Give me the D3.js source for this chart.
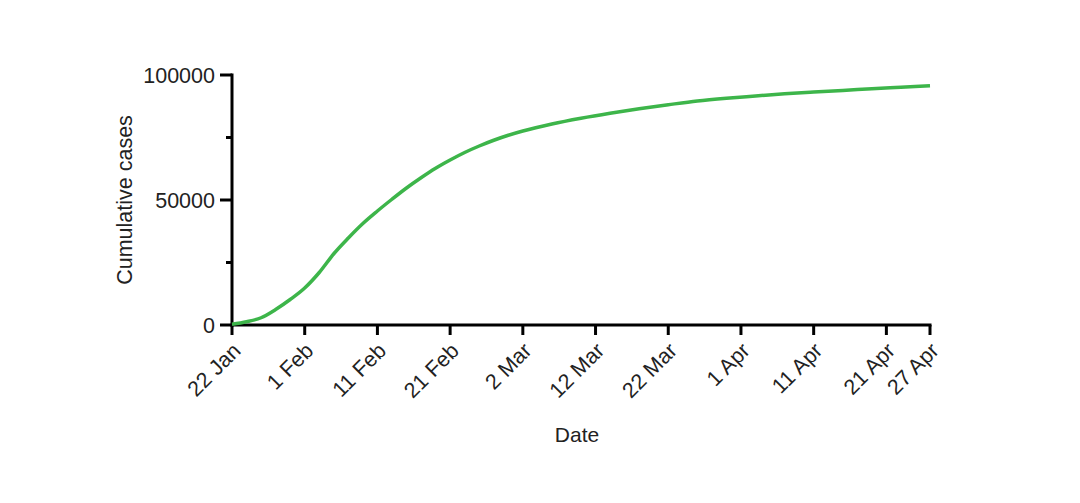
<!DOCTYPE html>
<html><head><meta charset="utf-8">
<script src="https://cdn.jsdelivr.net/npm/d3@7"></script>
<style>
html,body{margin:0;padding:0;background:#fff;}
svg{display:block;}
text{font-family:"Liberation Sans",Arial,Helvetica,sans-serif;fill:#222;}
</style></head>
<body>
<svg id="chart" width="1080" height="503"></svg>
<script>
// Days since 22 Jan 2020 and cumulative cases
const days  = [0, 2, 4, 6, 8, 10, 12, 14, 16, 18, 20, 22, 24, 26, 28, 30, 32, 34, 36, 38, 40, 44, 48, 52, 56, 60, 64, 68, 72, 76, 80, 84, 88, 92, 96];
const cases = [300, 1300, 2900, 6200, 10200, 14800, 21000, 28500, 34800, 40600, 45600, 50300, 54800, 58900, 62700, 66000, 69000, 71600, 73900, 75900, 77600, 80400, 82700, 84700, 86500, 88100, 89600, 90700, 91600, 92500, 93200, 93800, 94500, 95100, 95700];
const tickDays   = [0, 10, 20, 30, 40, 50, 60, 70, 80, 90, 96];
const tickLabels = ["22 Jan", "1 Feb", "11 Feb", "21 Feb", "2 Mar", "12 Mar", "22 Mar", "1 Apr", "11 Apr", "21 Apr", "27 Apr"];
const yMajor = [0, 50000, 100000];
const yMinor = [25000, 75000];

const svg = d3.select("#chart");
const x = d3.scaleLinear().domain([0, 96]).range([232, 930]);
const y = d3.scaleLinear().domain([0, 100000]).range([325, 75]);

// Y axis
const yAxis = svg.append("g").attr("transform", "translate(232,0)");
yAxis.append("line").attr("x1", 0).attr("x2", 0).attr("y1", y(100000)).attr("y2", y(0))
  .attr("stroke", "#000").attr("stroke-width", 3).attr("stroke-linecap", "square");
yAxis.selectAll(".maj").data(yMajor).join("line")
  .attr("x1", -12).attr("x2", 0).attr("y1", d => y(d)).attr("y2", d => y(d))
  .attr("stroke", "#000").attr("stroke-width", 3);
yAxis.selectAll(".min").data(yMinor).join("line")
  .attr("x1", -6).attr("x2", 0).attr("y1", d => y(d)).attr("y2", d => y(d))
  .attr("stroke", "#000").attr("stroke-width", 3);
yAxis.selectAll("text").data(yMajor).join("text")
  .attr("x", -17).attr("y", d => y(d)).attr("dy", "0.35em")
  .attr("text-anchor", "end").attr("font-size", 21.5).text(d => d);

// X axis
const xAxis = svg.append("g");
xAxis.append("line").attr("x1", x(0)).attr("x2", x(96)).attr("y1", y(0)).attr("y2", y(0))
  .attr("stroke", "#000").attr("stroke-width", 3).attr("stroke-linecap", "square");
xAxis.selectAll(".t").data(tickDays).join("line")
  .attr("x1", d => x(d)).attr("x2", d => x(d)).attr("y1", y(0)).attr("y2", y(0) + 10)
  .attr("stroke", "#000").attr("stroke-width", 3);
xAxis.selectAll("text").data(tickDays).join("text")
  .attr("transform", d => `translate(${x(d) + 10},${y(0) + 27}) rotate(-45)`)
  .attr("text-anchor", "end").attr("font-size", 21.5)
  .text((d, i) => tickLabels[i]);

// Axis titles
svg.append("text").attr("x", 577).attr("y", 442).attr("text-anchor", "middle")
  .attr("font-size", 21).text("Date");
svg.append("text").attr("transform", "translate(132,200) rotate(-90)")
  .attr("text-anchor", "middle").attr("font-size", 21.5).text("Cumulative cases");

// Curve
const line = d3.line().x((d, i) => x(days[i])).y(d => y(d)).curve(d3.curveMonotoneX);
svg.append("path").datum(cases).attr("d", line)
  .attr("fill", "none").attr("stroke", "#3db54a").attr("stroke-width", 3.5);
</script>
</body></html>
